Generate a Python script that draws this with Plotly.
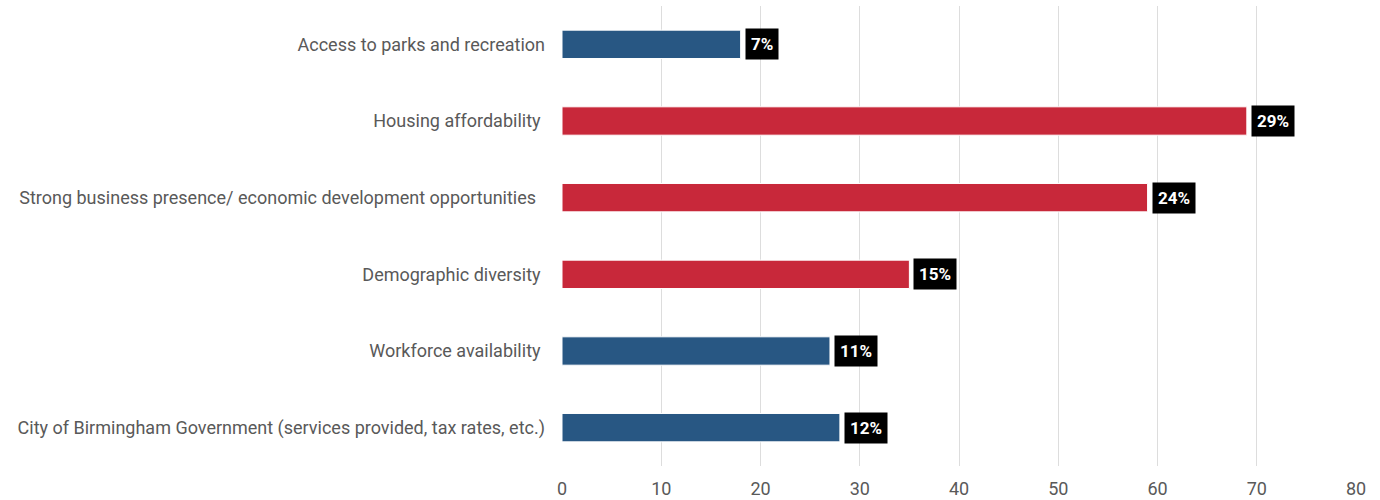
import plotly.graph_objects as go

categories = [
    "Access to parks and recreation",
    "Housing affordability\u00a0",
    "Strong business presence/ economic development opportunities\u00a0\u00a0",
    "Demographic diversity\u00a0",
    "Workforce availability\u00a0",
    "City of Birmingham Government (services provided, tax rates, etc.)",
]
values = [18, 69, 59, 35, 27, 28]
share_labels = ["7%", "29%", "24%", "15%", "11%", "12%"]
bar_colors = ["#285783", "#C8283A", "#C8283A", "#C8283A", "#285783", "#285783"]
x_ticks = [0, 10, 20, 30, 40, 50, 60, 70, 80]

fig = go.Figure()
fig.add_trace(go.Bar(
    y=categories,
    x=values,
    orientation="h",
    marker=dict(color=bar_colors, line=dict(color="#ffffff", width=1)),
    width=0.37,
    hoverinfo="x+y",
))

for cat, val, lab in zip(categories, values, share_labels):
    fig.add_annotation(
        x=val, y=cat, text=f"<b>{lab}</b>",
        xanchor="left", yanchor="middle", xshift=4, showarrow=False,
        bgcolor="#000000", borderpad=5,
        font=dict(family="Roboto", size=17, color="#ffffff"),
    )

fig.update_layout(
    width=1380, height=500,
    margin=dict(l=562, r=24, t=6, b=34, autoexpand=False),
    plot_bgcolor="#ffffff", paper_bgcolor="#ffffff",
    showlegend=False,
    font=dict(family="Roboto", size=18, color="#595959"),
    bargap=0.63,
)
fig.update_xaxes(
    range=[0, 80], tickvals=x_ticks, showgrid=True, gridcolor="#dddddd", gridwidth=1,
    zeroline=False, showline=False, ticks="", ticklabelstandoff=10, automargin=False,
    tickfont=dict(family="Roboto", size=18, color="#595959"),
)
fig.update_yaxes(
    autorange="reversed", showgrid=False, zeroline=False, showline=False,
    ticks="", ticklabelstandoff=16, automargin=False,
    tickfont=dict(family="Roboto", size=18, color="#595959"),
)

fig.write_html("out.html")
